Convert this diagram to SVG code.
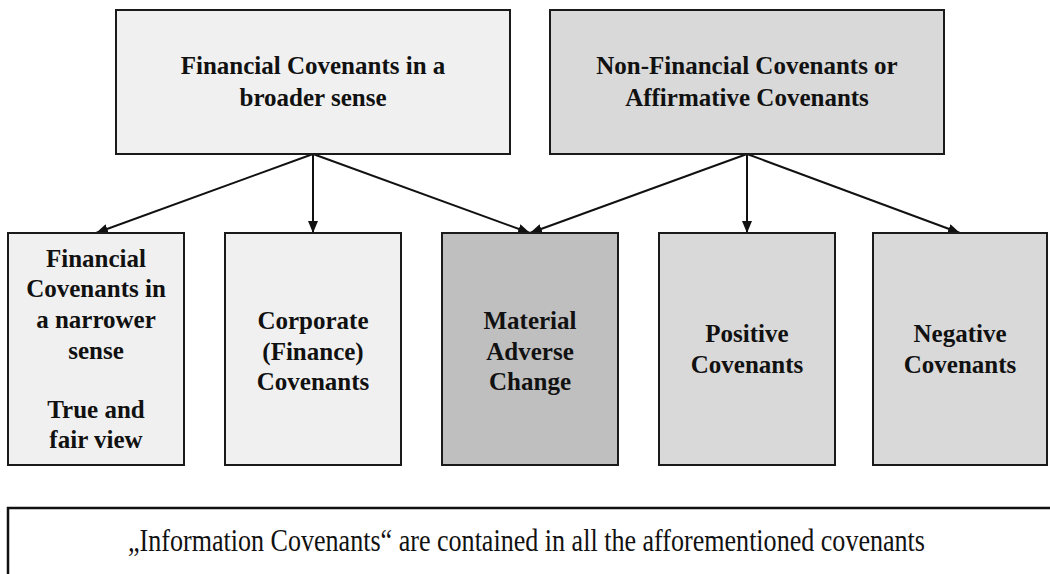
<svg xmlns="http://www.w3.org/2000/svg" width="1050" height="574" viewBox="0 0 1050 574">
<defs>
<marker id="ah" viewBox="0 0 12 10" refX="12" refY="5" markerWidth="12" markerHeight="10" markerUnits="userSpaceOnUse" orient="auto">
<path d="M0,0 L12,5 L0,10 Z" fill="#111"/>
</marker>
<style>
.box{stroke:#1a1a1a;stroke-width:2}
.l{fill:#f0f0f0}
.m{fill:#d9d9d9}
.d{fill:#bfbfbf}
.t{font-family:'Liberation Serif','Times New Roman',serif;font-weight:bold;font-size:25px;fill:#111;text-anchor:middle}
.r{font-family:'Liberation Serif','Times New Roman',serif;font-size:31px;fill:#111}
.c{stroke:#111;stroke-width:2;fill:none;marker-end:url(#ah)}
</style>
</defs>
<rect width="1050" height="574" fill="#fff"/>
<g id="connectors">
<line class="c" x1="313" y1="154" x2="96" y2="233"/>
<line class="c" x1="313" y1="154" x2="313" y2="233"/>
<line class="c" x1="313" y1="154" x2="530" y2="233"/>
<line class="c" x1="747" y1="154" x2="530" y2="233"/>
<line class="c" x1="747" y1="154" x2="747" y2="233"/>
<line class="c" x1="747" y1="154" x2="960" y2="233"/>
</g>
<g id="fin-broad">
<rect class="box l" x="116" y="10" width="394" height="144"/>
<text class="t" x="313" y="74">Financial Covenants in a</text>
<text class="t" x="313" y="106">broader sense</text>
</g>
<g id="non-fin">
<rect class="box m" x="550" y="10" width="394" height="144"/>
<text class="t" x="747" y="74">Non-Financial Covenants or</text>
<text class="t" x="747" y="106">Affirmative Covenants</text>
</g>
<g id="fin-narrow">
<rect class="box l" x="8" y="233" width="176" height="232"/>
<text class="t" x="96" y="267">Financial</text>
<text class="t" x="96" y="297">Covenants in</text>
<text class="t" x="96" y="328">a narrower</text>
<text class="t" x="96" y="359">sense</text>
<text class="t" x="96" y="418">True and</text>
<text class="t" x="96" y="448">fair view</text>
</g>
<g id="corporate">
<rect class="box l" x="225" y="233" width="176" height="232"/>
<text class="t" x="313" y="329">Corporate</text>
<text class="t" x="313" y="360">(Finance)</text>
<text class="t" x="313" y="390">Covenants</text>
</g>
<g id="mac">
<rect class="box d" x="442" y="233" width="176" height="232"/>
<text class="t" x="530" y="329">Material</text>
<text class="t" x="530" y="360">Adverse</text>
<text class="t" x="530" y="390">Change</text>
</g>
<g id="positive">
<rect class="box m" x="659" y="233" width="176" height="232"/>
<text class="t" x="747" y="342">Positive</text>
<text class="t" x="747" y="373">Covenants</text>
</g>
<g id="negative">
<rect class="box m" x="873" y="233" width="174" height="232"/>
<text class="t" x="960" y="342">Negative</text>
<text class="t" x="960" y="373">Covenants</text>
</g>
<g id="info">
<rect x="8" y="508" width="1080" height="100" fill="#fff" stroke="#111" stroke-width="2.5"/>
<text class="r" x="128" y="551" textLength="797" lengthAdjust="spacingAndGlyphs">„Information Covenants“ are contained in all the afforementioned covenants</text>
</g>
</svg>
